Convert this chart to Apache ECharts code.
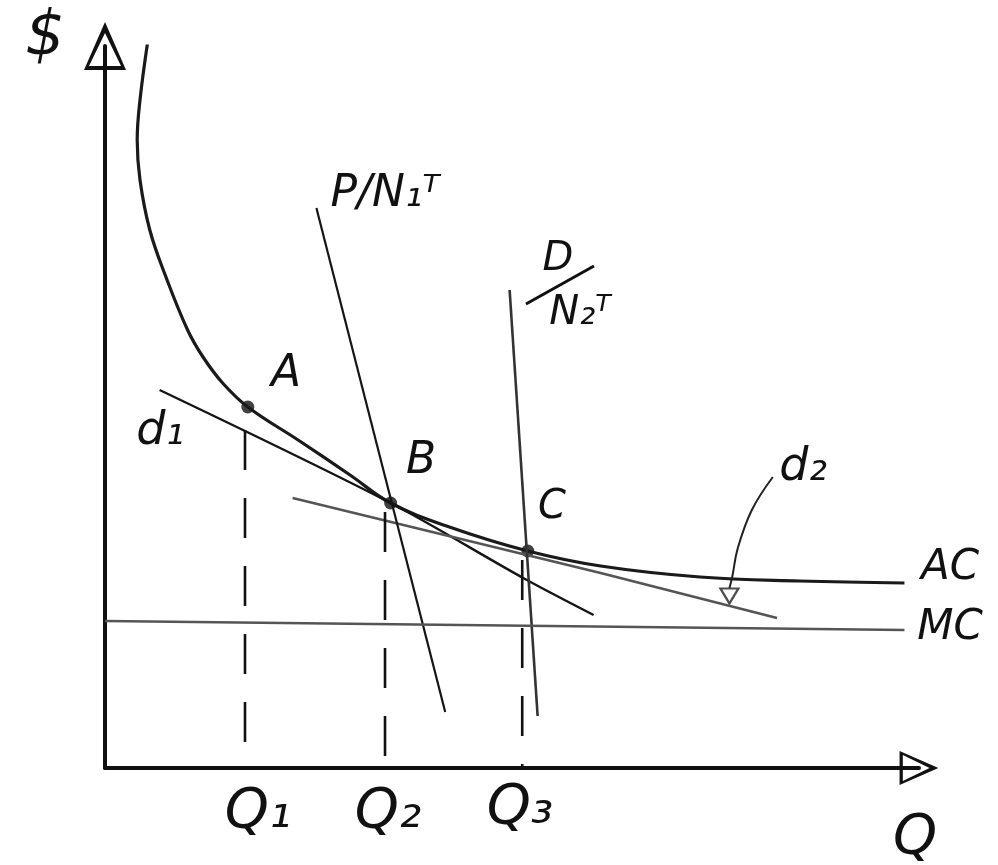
<!DOCTYPE html>
<html>
<head>
<meta charset="utf-8">
<script src="https://cdn.jsdelivr.net/npm/echarts@6/dist/echarts.min.js"></script>
<style>
  html, body { margin: 0; padding: 0; background: #fff; }
  #chart { width: 998px; height: 865px; }
</style>
</head>
<body>
<div id="chart"></div>
<script>
// average cost curve (Q, $)
const acQ = [0.31, 0.25, 0.23, 0.25, 0.32, 0.43, 0.59, 0.70, 0.84, 1.02, 1.39, 1.75, 2.04, 2.46, 3.02, 3.54, 4.25, 4.96, 5.71];
const acP = [7.31, 6.68, 6.28, 5.88, 5.38, 4.93, 4.38, 4.11, 3.85, 3.61, 3.27, 2.93, 2.65, 2.41, 2.17, 2.02, 1.91, 1.87, 1.85];

// firm demand curves d1, d2
const d1Q = [0.39, 2.04, 3.00, 3.49];
const d1P = [3.78, 2.65, 1.89, 1.53];
const d2Q = [1.34, 3.54, 4.80];
const d2P = [2.70, 1.95, 1.50];

// P/N1T and D/N2T lines
const pn1Q = [1.51, 2.43];
const pn1P = [5.60, 0.56];
const dn2Q = [2.89, 3.09];
const dn2P = [4.78, 0.52];

// marginal cost
const mcQ = [0, 5.71];
const mcP = [1.47, 1.38];

// equilibrium points
const pointNames = ['A', 'B', 'C'];
const pointQ = [1.02, 2.04, 3.02];
const pointP = [3.61, 2.65, 2.17];

// dashed drop lines at Q1, Q2, Q3
const qMarks = [1.00, 2.00, 2.98];
const qTops = [3.38, 2.56, 2.08];

// pointer from the d2 label
const arrowQ = [4.77, 4.62, 4.52, 4.48, 4.46];
const arrowP = [2.91, 2.58, 2.20, 1.91, 1.80];
const arrowTip = [4.46, 1.72];

const zip = (xs, ys) => xs.map((x, i) => [x, ys[i]]);

const openArrow = 'path://M21,0 L42,48 L0,48 Z M21,11 L5,44 L37,44 Z';
const font = 'DejaVu Sans';
const ink = '#111';

function label(text, x, y, size) {
    return {
        type: 'text', x: x, y: y,
        style: {
            text: text, fill: ink, fontFamily: font, fontStyle: 'italic',
            fontSize: size, align: 'center', verticalAlign: 'middle'
        }
    };
}

function plain(name, q, p, color, width, smooth) {
    return {
        name: name, type: 'line', data: zip(q, p), showSymbol: false,
        smooth: smooth || false, smoothConstraint: false, silent: true,
        lineStyle: { color: color, width: width }
    };
}

const series = [
    plain('AC', acQ, acP, '#1a1a1a', 3.2, 0.4),
    plain('d1', d1Q, d1P, '#151515', 2.4, 0.3),
    plain('d2', d2Q, d2P, '#555', 2.6),
    plain('P/N1T', pn1Q, pn1P, '#151515', 2.2),
    plain('D/N2T', dn2Q, dn2P, '#333', 2.6),
    plain('MC', mcQ, mcP, '#555', 2.6),
    plain('arrow', arrowQ, arrowP, '#222', 2, 0.4)
];

qMarks.forEach((q, i) => {
    series.push({
        type: 'line', data: [[q, qTops[i]], [q, 0]], showSymbol: false, silent: true,
        lineStyle: { color: ink, width: 2.6, type: [40, 28] }
    });
});

series.push({
    type: 'scatter', data: [arrowTip], symbol: 'triangle', symbolRotate: 180,
    symbolSize: [18, 15], silent: true,
    itemStyle: { color: '#fff', borderColor: '#222', borderWidth: 2.2 }
});

series.push({
    type: 'scatter', data: zip(pointQ, pointP), symbolSize: 13, silent: true,
    itemStyle: { color: '#111' }
});

const chart = echarts.init(document.getElementById('chart'), null, { renderer: 'canvas' });
chart.setOption({
    backgroundColor: '#fff',
    animation: false,
    grid: { left: 105, top: 46, width: 814, height: 722 },
    xAxis: {
        type: 'value', min: 0, max: 5.814,
        axisLine: { lineStyle: { color: ink, width: 4 }, symbol: ['none', openArrow], symbolSize: [34, 40] },
        axisTick: { show: false }, axisLabel: { show: false }, splitLine: { show: false }
    },
    yAxis: {
        type: 'value', min: 0, max: 7.22,
        axisLine: { lineStyle: { color: ink, width: 4 }, symbol: ['none', openArrow], symbolSize: [42, 48] },
        axisTick: { show: false }, axisLabel: { show: false }, splitLine: { show: false }
    },
    series: series,
    graphic: [
        label('$', 45, 38, 62),
        label('P/N₁ᵀ', 385, 195, 44),
        label('D', 558, 260, 40),
        { type: 'line', shape: { x1: 526, y1: 304, x2: 594, y2: 266 }, style: { stroke: ink, lineWidth: 3 } },
        label('N₂ᵀ', 580, 314, 40),
        label(pointNames[0], 286, 375, 44),
        label(pointNames[1], 421, 462, 44),
        label(pointNames[2], 552, 508, 40),
        label('d₁', 160, 432, 46),
        label('d₂', 803, 468, 46),
        label('AC', 950, 568, 42),
        label('MC', 950, 628, 42),
        label('Q₁', 258, 812, 56),
        label('Q₂', 388, 812, 56),
        label('Q₃', 520, 808, 56),
        label('Q', 915, 838, 56)
    ]
});
</script>
</body>
</html>
